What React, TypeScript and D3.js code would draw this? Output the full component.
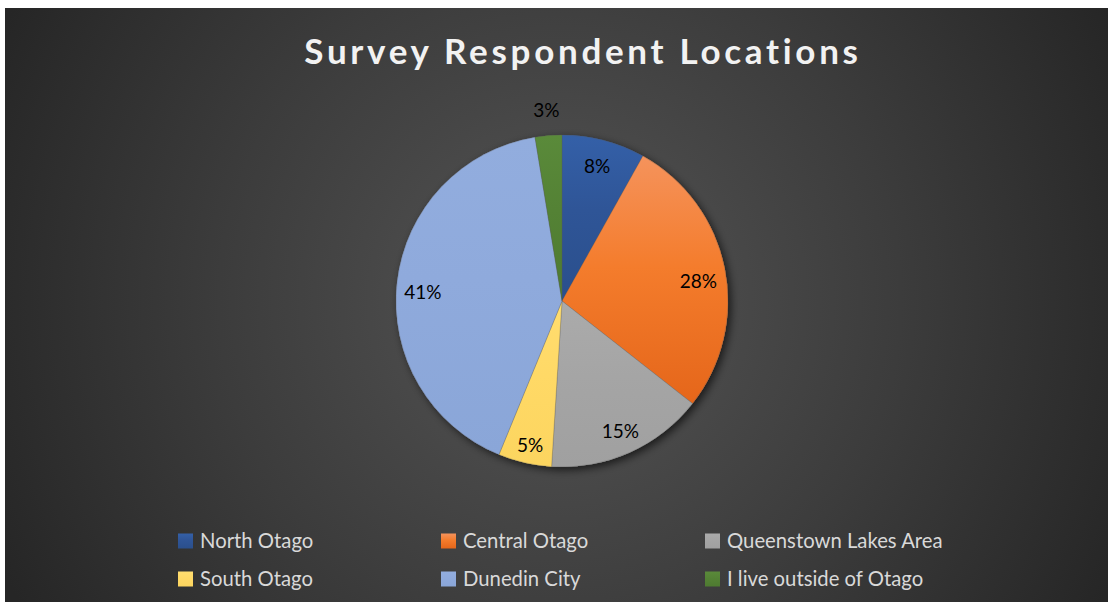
import React from "react";
import * as d3 from "d3";

const categories = ["North Otago", "Central Otago", "Queenstown Lakes Area", "South Otago", "Dunedin City", "I live outside of Otago"];
const values = [8.1, 27.5, 15.4, 5.2, 41.2, 2.6];
const labels = ["8%", "28%", "15%", "5%", "41%", "3%"];
const colorsTop = ["#3460A8", "#F5935C", "#ABABAB", "#FFDD70", "#92ADDE", "#5A8A3A"];
const colorsMid = ["#2F5597", "#F47C2C", "#A5A5A5", "#FFD966", "#8FAADC", "#548235"];
const colorsBottom = ["#2A4F8C", "#E5661A", "#A0A0A0", "#FCD55F", "#8AA6D8", "#4E7A31"];
// label placement: radius factor and angle nudge (degrees)
const labelRadius = [0.84, 0.83, 0.86, 0.89, 0.84, 1.15];
const labelNudge = [0, 3, 0, -0.5, -3, 0];

const W = 1108, H = 602;
const cx = 562, cy = 301, R = 166;

export default function App() {
  const pie = d3.pie<number>().sort(null).value((d) => d);
  const arcs = pie(values);
  const arc = d3.arc<d3.PieArcDatum<number>>().innerRadius(0).outerRadius(R);
  const legendCols = [178, 441, 705];
  const legendRows = [541, 579];
  const font = "Lato, 'Open Sans', sans-serif";
  return (
    <svg width={W} height={H} style={{ position: "absolute", left: 0, top: 0 }}>
      <defs>
        <radialGradient id="bg" cx="560" cy="300" r="620" gradientUnits="userSpaceOnUse">
          <stop offset="0" stopColor="#555555" />
          <stop offset="0.55" stopColor="#3C3C3C" />
          <stop offset="1" stopColor="#262626" />
        </radialGradient>
        {colorsTop.map((c, i) => (
          <linearGradient key={i} id={`g${i}`} x1="0" y1="0" x2="0" y2="1">
            <stop offset="0" stopColor={c} />
            <stop offset="0.45" stopColor={colorsMid[i]} />
            <stop offset="1" stopColor={colorsBottom[i]} />
          </linearGradient>
        ))}
        <filter id="shadow" x="-20%" y="-20%" width="140%" height="140%">
          <feDropShadow dx="3" dy="3" stdDeviation="4" floodColor="#000" floodOpacity="0.65" />
        </filter>
      </defs>
      <rect x={5} y={8} width={W - 5} height={H - 8} fill="url(#bg)" />
      <text x={583} y={64} textAnchor="middle" fill="#F2F2F2" fontFamily={font} fontWeight="bold" fontSize={35} letterSpacing={3.7}>
        Survey Respondent Locations
      </text>
      <g transform={`translate(${cx},${cy})`}>
        <g filter="url(#shadow)">
          {arcs.map((a, i) => (
            <path key={i} d={arc(a) || ""} fill={colorsMid[i]} />
          ))}
        </g>
        {arcs.map((a, i) => (
          <path key={"s" + i} d={arc(a) || ""} fill={`url(#g${i})`} stroke="rgba(90,90,90,0.5)" strokeWidth={0.6} />
        ))}
        {arcs.map((a, i) => {
          const mid = (a.startAngle + a.endAngle) / 2 + (labelNudge[i] * Math.PI) / 180;
          const r = R * labelRadius[i];
          return (
            <text key={"l" + i} x={r * Math.sin(mid)} y={-r * Math.cos(mid)} dy="0.35em" textAnchor="middle" fill="#000" fontFamily={font} fontSize={19}>
              {labels[i]}
            </text>
          );
        })}
      </g>
      {categories.map((c, i) => {
        const x = legendCols[i % 3];
        const y = legendRows[Math.floor(i / 3)];
        return (
          <g key={"lg" + i}>
            <rect x={x} y={y - 7.5} width={15} height={15} fill={`url(#g${i})`} />
            <text x={x + 22} y={y} dy="0.35em" fill="#D9D9D9" fontFamily={font} fontSize={20.3}>
              {c}
            </text>
          </g>
        );
      })}
    </svg>
  );
}
